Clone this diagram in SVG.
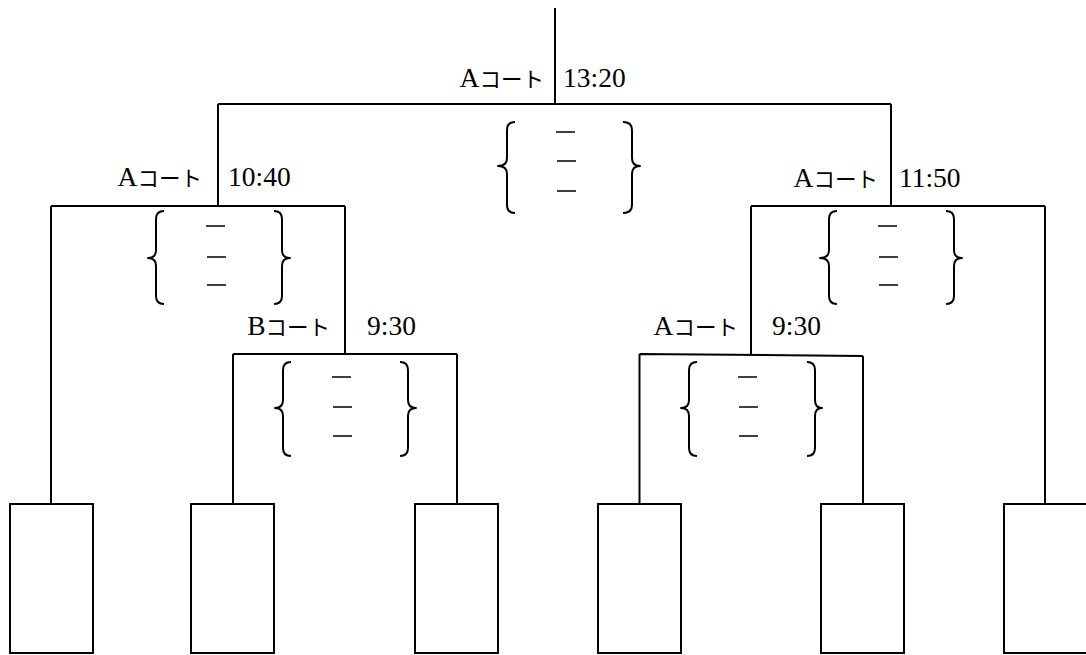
<svg xmlns="http://www.w3.org/2000/svg" width="1086" height="655" viewBox="0 0 1086 655">
<style>
  .ln{stroke:#000;stroke-width:2;fill:none}
  .box{stroke:#000;stroke-width:2;fill:#fff}
  .br{stroke:#000;stroke-width:2;fill:none;stroke-linejoin:round}
  .ds{stroke:#000;stroke-width:1.3}
  .t{font-family:"Liberation Serif","Noto Sans CJK JP",serif;font-size:27.5px;fill:#000}
  .k{font-family:"Noto Sans CJK JP",sans-serif;font-size:21.5px;font-weight:normal;fill:#000}
</style>
<rect width="1086" height="655" fill="#fff"/>
<g id="connectors">
  <path class="ln" d="M555,8V104M218,104H891M218,104V206M891,104V206"/>
  <path class="ln" d="M51,206H345M51,206V504M345,206V354M233,354H457M233,354V504M457,354V504"/>
  <path class="ln" d="M751,206H1045M1045,206V504M751,206V354M639.5,354L863,356M639.5,354V504M863,356V504"/>
</g>
<g id="match-final">
  <text class="t" x="544" y="87" text-anchor="end">A<tspan class="k">コート</tspan></text>
  <text class="t" x="563" y="87">13:20</text>
  <path class="br" d="M515,122Q507,122 507,130V158Q507,166 498,166Q507,166 507,174V205Q507,213 515,213"/>
  <path class="br" d="M623,122Q632,122 632,130V158Q632,166 640,166Q632,166 632,174V205Q632,213 623,213"/>
  <path class="ds" d="M556,132H575M557,161H576M557,191H576"/>
</g>
<g id="match-left-semi">
  <text class="t" x="202" y="186" text-anchor="end">A<tspan class="k">コート</tspan></text>
  <text class="t" x="228" y="186">10:40</text>
  <path class="br" d="M164,211Q156,211 156,219V250Q156,258 148,258Q156,258 156,266V296Q156,304 164,304"/>
  <path class="br" d="M274,211Q282,211 282,219V250Q282,258 290,258Q282,258 282,266V296Q282,304 274,304"/>
  <path class="ds" d="M206,226H225M207,257H226M207,285H226"/>
</g>
<g id="match-right-semi">
  <text class="t" x="878" y="187" text-anchor="end">A<tspan class="k">コート</tspan></text>
  <text class="t" x="899" y="187">11:50</text>
  <path class="br" d="M837,211Q829,211 829,219V250Q829,258 820,258Q829,258 829,266V296Q829,304 837,304"/>
  <path class="br" d="M946,211Q954,211 954,219V250Q954,258 962,258Q954,258 954,266V296Q954,304 946,304"/>
  <path class="ds" d="M878,226H897M879,257H898M879,285H898"/>
</g>
<g id="match-left-first">
  <text class="t" x="330" y="335" text-anchor="end">B<tspan class="k">コート</tspan></text>
  <text class="t" x="367" y="335">9:30</text>
  <path class="br" d="M291,362Q283,362 283,370V400Q283,408 275,408Q283,408 283,416V448Q283,456 291,456"/>
  <path class="br" d="M400,362Q408,362 408,370V400Q408,408 416,408Q408,408 408,416V448Q408,456 400,456"/>
  <path class="ds" d="M332,377H351M333,407H352M333,436H352"/>
</g>
<g id="match-right-first">
  <text class="t" x="738" y="335" text-anchor="end">A<tspan class="k">コート</tspan></text>
  <text class="t" x="772" y="335">9:30</text>
  <path class="br" d="M697,362Q689,362 689,370V400Q689,408 681,408Q689,408 689,416V448Q689,456 697,456"/>
  <path class="br" d="M807,362Q815,362 815,370V400Q815,408 822,408Q815,408 815,416V448Q815,456 807,456"/>
  <path class="ds" d="M738,377H757M739,407H758M739,436H758"/>
</g>
<g id="team1"><rect class="box" x="10" y="504" width="83" height="149"/></g>
<g id="team2"><rect class="box" x="191" y="504" width="83" height="149"/></g>
<g id="team3"><rect class="box" x="415" y="504" width="83" height="149"/></g>
<g id="team4"><rect class="box" x="598" y="504" width="83" height="149"/></g>
<g id="team5"><rect class="box" x="821" y="504" width="83" height="149"/></g>
<g id="team6"><rect class="box" x="1004" y="504" width="83" height="149"/></g>
</svg>
